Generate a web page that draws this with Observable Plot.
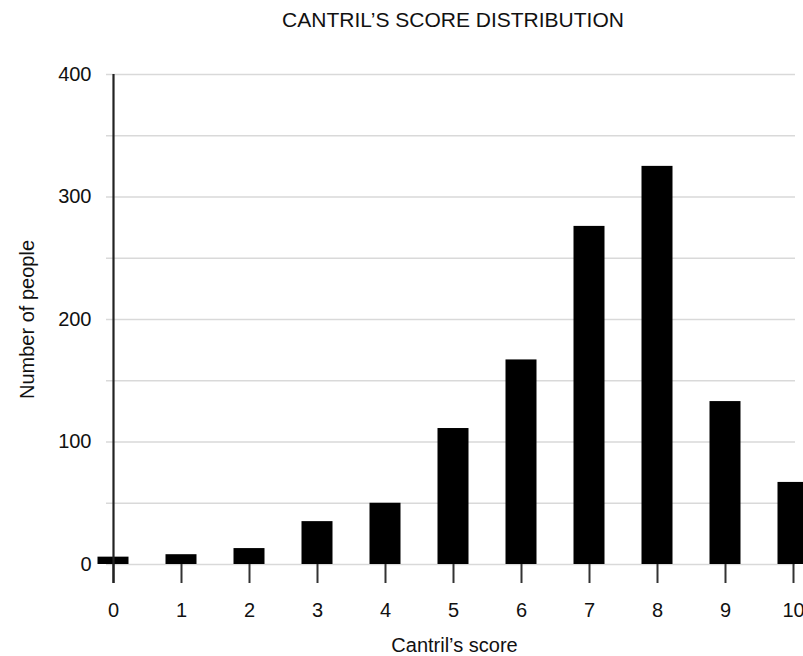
<!DOCTYPE html>
<html>
<head>
<meta charset="utf-8">
<script src="https://cdn.jsdelivr.net/npm/d3@7"></script>
<script src="https://cdn.jsdelivr.net/npm/@observablehq/plot@0.6"></script>
<style>
  html, body { margin: 0; padding: 0; background: #fff; }
  body { width: 803px; height: 656px; overflow: hidden; font-family: "Liberation Sans", Arial, sans-serif; }
  #title { height: 40px; line-height: 40px; padding-left: 103px; text-align: center; font-size: 21px; color: #111; }
  svg { display: block; overflow: visible; }
  #chart g[aria-label="y-axis tick label"], #chart g[aria-label="x-axis tick label"] { font-size: 20px !important; }
  #chart g[aria-label="y-axis tick label"] text, #chart g[aria-label="x-axis tick label"] text { font-size: 20px !important; }
</style>
</head>
<body>
<div id="title">CANTRIL’S SCORE DISTRIBUTION</div>
<div id="chart"></div>
<script>
const scores = [0, 1, 2, 3, 4, 5, 6, 7, 8, 9, 10];
const counts = [6, 8, 13, 35, 50, 111, 167, 276, 325, 133, 67];
const yLabelTicks = [0, 100, 200, 300, 400];
const gridTicks = [0, 50, 100, 150, 200, 250, 300, 350, 400];
const xTitle = "Cantril’s score";
const yTitle = "Number of people";

const data = scores.map((s, i) => ({score: s, count: counts[i]}));

const plot = Plot.plot({
  width: 803,
  height: 616,
  marginTop: 34,
  marginBottom: 92,
  marginLeft: 113,
  marginRight: 8,
  style: {fontFamily: "'Liberation Sans', Arial, sans-serif", fontSize: "20px", color: "#111", background: "#fff", overflow: "visible"},
  x: {domain: [0, 10], range: [113, 793]},
  y: {domain: [0, 400]},
  marks: [
    Plot.ruleY(gridTicks, {stroke: "#d9d9d9", strokeWidth: 1.3, insetLeft: -7}),
    Plot.rectY(data, {x1: d => d.score - 0.5, x2: d => d.score + 0.5, y: "count", fill: "#000", insetLeft: 18.5, insetRight: 18.5}),
    Plot.axisY({ticks: yLabelTicks, tickSize: 0, tickPadding: 22, label: null, fontSize: 20}),
    Plot.axisX({ticks: scores, tickSize: 19, tickPadding: 19, stroke: "#333", strokeWidth: 2, label: null, fontSize: 20, tickFormat: d => String(d)}),
    Plot.ruleX([0], {stroke: "#222", strokeWidth: 2.2, insetBottom: -19}),
    Plot.text([xTitle], {frameAnchor: "bottom", dy: 81, lineAnchor: "middle", fontSize: 20, fill: "#111"}),
    Plot.text([yTitle], {frameAnchor: "left", dx: -86, rotate: -90, textAnchor: "middle", lineAnchor: "middle", fontSize: 20, fill: "#111"})
  ]
});
document.getElementById("chart").appendChild(plot);
</script>
</body>
</html>
